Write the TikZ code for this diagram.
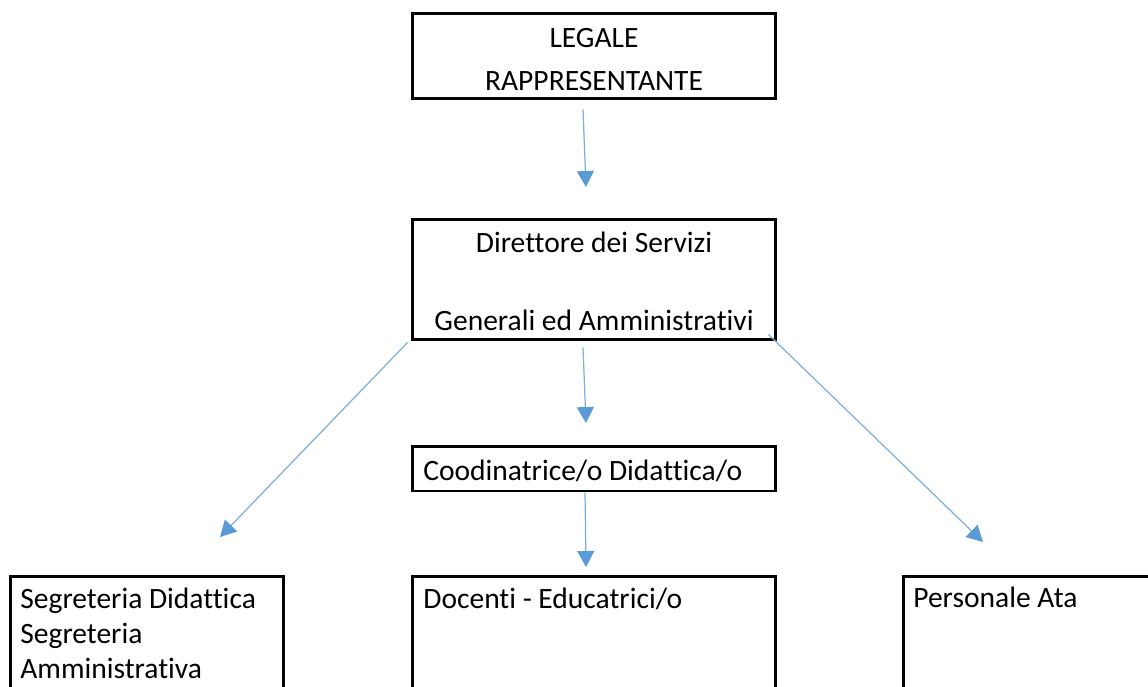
\documentclass[tikz,border=0pt]{standalone}
\usepackage{fontspec}
\setmainfont{Carlito}[Ligatures=NoCommon]
\usepackage{xcolor}
\usetikzlibrary{arrows.meta,positioning}

\definecolor{linkblue}{HTML}{5B9BD5}

\tikzset{
  orgbox/.style={draw=black, line width=1.7pt, inner sep=0pt},
  boxtext/.style={font=\fontsize{16.8pt}{24pt}\selectfont, inner sep=0pt},
  link/.style={draw=linkblue!80, line width=0.7pt,
    -{Triangle[length=0.32cm, width=0.34cm, color=linkblue, fill=linkblue]}}
}

\begin{document}
\begin{tikzpicture}[x=0.02cm, y=-0.02cm]
\useasboundingbox (0,0) rectangle (1148,686);
\clip (0,0) rectangle (1148,686);

% upper boxes
\node[orgbox, minimum width=7.28cm, minimum height=1.72cm] (legale) at (594,56) {};
\node[boxtext, anchor=base] (legale1) at (594,48) {LEGALE};
\node[boxtext, anchor=base] (legale2) at (594,91) {RAPPRESENTANTE};

\node[orgbox, minimum width=7.28cm, minimum height=2.42cm] (direttore) at (594,279.5) {};
\node[boxtext, anchor=base] (direttore1) at (594,252) {Direttore dei Servizi};
\node[boxtext, anchor=base] (direttore2) at (594,330) {Generali ed Amministrativi};

\node[orgbox, minimum width=7.28cm, minimum height=0.9cm] (coord) at (594,468.5) {};
\node[boxtext, anchor=base west] (coordtext) at (423,480) {Coodinatrice/o Didattica/o};

% lower boxes (cut by the page)
\node[orgbox, minimum width=5.48cm, minimum height=4cm] (segreteria) at (147,676) {};
\node[boxtext, anchor=base west] (segr1) at (20,608) {Segreteria Didattica};
\node[boxtext, anchor=base west] (segr2) at (20,643) {Segreteria};
\node[boxtext, anchor=base west] (segr3) at (20,678) {Amministrativa};

\node[orgbox, minimum width=7.28cm, minimum height=4cm] (docenti) at (594,676) {};
\node[boxtext, anchor=base west] (docentitext) at (423,608) {Docenti - Educatrici/o};

\node[orgbox, minimum width=6cm, minimum height=4cm] (personale) at (1053,676) {};
\node[boxtext, anchor=base west] (personaletext) at (913,607) {Personale Ata};

% arrow tips
\coordinate (tip1) at (586,187);
\coordinate (tip2) at (586,423);
\coordinate (tip3) at (586,567);
\coordinate (tipleft) at (220,537);
\coordinate (tipright) at (983,542);

% arrows
\draw[link] ([shift={(-11,9)}]legale.south) -- (tip1);
\draw[link] ([shift={(-11,6)}]direttore.south) -- (tip2);
\draw[link] ([shift={(-9,0)}]coord.south) -- (tip3);
\draw[link] ([shift={(-3,1)}]direttore.south west) -- (tipleft);
\draw[link] ([shift={(-9,-7)}]direttore.south east) -- (tipright);
\end{tikzpicture}
\end{document}
